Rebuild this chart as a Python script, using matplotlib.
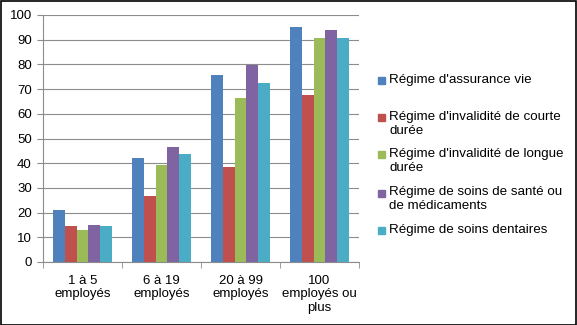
import matplotlib
matplotlib.use("Agg")
import matplotlib.pyplot as plt
import matplotlib.patches as mpatches
import numpy as np

plt.rcParams['font.family'] = ['Liberation Sans', 'DejaVu Sans']

# categories (company size) and series (plan types), values in %
categories = ["1 à 5\nemployés", "6 à 19\nemployés", "20 à 99\nemployés", "100\nemployés ou\nplus"]
series_names = ["Régime d'assurance vie",
                "Régime d'invalidité de courte\ndurée",
                "Régime d'invalidité de longue\ndurée",
                "Régime de soins de santé ou\nde médicaments",
                "Régime de soins dentaires"]
assurance_vie = [21, 42, 75.6, 95.2]
courte_duree = [14.7, 26.8, 38.3, 67.8]
longue_duree = [13, 39.3, 66.4, 90.7]
soins_sante = [14.9, 46.7, 79.6, 93.9]
soins_dentaires = [14.7, 43.8, 72.4, 90.7]
colors = ["#4F81BD", "#C0504D", "#9BBB59", "#8064A2", "#4BACC6"]

values = [assurance_vie, courte_duree, longue_duree, soins_sante, soins_dentaires]

fig = plt.figure(figsize=(5.77, 3.25), dpi=100)
W, H = 577, 325
ax = fig.add_axes([43 / W, 1 - 262 / H, (359 - 43) / W, (262 - 15) / H])

x = np.arange(len(categories))
bw = 0.148
for i, (vals, c) in enumerate(zip(values, colors)):
    ax.bar(x + (i - 2) * bw, vals, width=bw, color=c, zorder=3)

ax.set_xlim(-0.5, len(categories) - 0.5)
ax.set_ylim(0, 100)
ax.set_yticks(range(0, 101, 10))
ax.yaxis.grid(True, color="#8c8c8c", linewidth=0.8, zorder=0)
ax.tick_params(axis='y', labelsize=9.5, length=4, color="#8c8c8c", pad=4)

ax.set_xticks(x)
ax.set_xticklabels(categories, fontsize=9.5, linespacing=1.2)
ax.tick_params(axis='x', length=0, pad=9)
ax.set_xticks(np.arange(len(categories) + 1) - 0.5, minor=True)
ax.tick_params(axis='x', which='minor', length=4, color="#8c8c8c")

for s in ['top', 'right']:
    ax.spines[s].set_visible(False)
for s in ['left', 'bottom']:
    ax.spines[s].set_color("#8c8c8c")
    ax.spines[s].set_linewidth(0.8)

# legend on the right, one slot per series
slot_y = [80.7, 117.7, 155, 193, 230.7]
for name, c, yy in zip(series_names, colors, slot_y):
    fig.patches.append(mpatches.Rectangle((378 / W, 1 - (yy + 3.5) / H), 7 / W, 7 / H,
                                          transform=fig.transFigure, color=c))
    fig.text(389 / W, 1 - (yy - 7) / H, name, fontsize=9.6, va='top', ha='left',
             linespacing=1.25)

# outer frame
fig.patches.append(mpatches.Rectangle((0.5 / W, 0.5 / H), 1 - 1.5 / W, 1 - 1.5 / H,
                                      transform=fig.transFigure, fill=False,
                                      edgecolor="black", linewidth=1.2))

fig.savefig("out.png", dpi=100)
